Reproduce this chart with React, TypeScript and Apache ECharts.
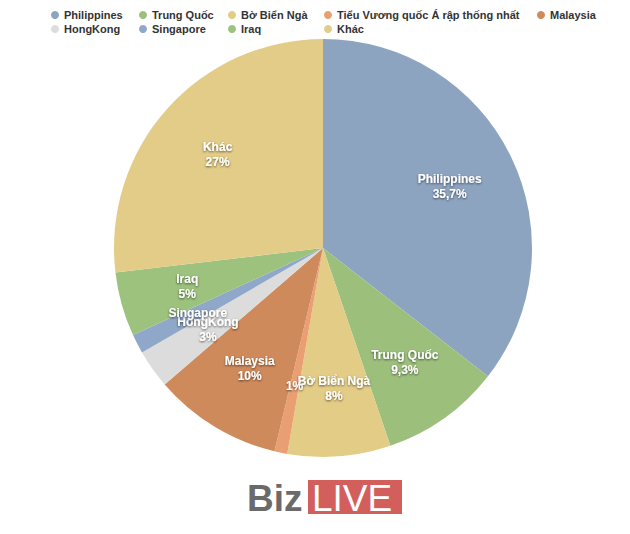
import React, { useEffect, useRef } from "react";
import * as echarts from "echarts";

const names = [
  "Philippines",
  "Trung Quốc",
  "Bờ Biển Ngà",
  "Tiểu Vương quốc Á rập thống nhất",
  "Malaysia",
  "HongKong",
  "Singapore",
  "Iraq",
  "Khác",
];
const values = [35.7, 9.3, 8, 1, 10, 3, 1.5, 5, 27];
const valueTexts = ["35,7%", "9,3%", "8%", "1%", "10%", "3%", "", "5%", "27%"];
const showName = [true, true, true, false, true, true, true, true, true];
const colors = [
  "#8da4c0",
  "#9cc07c",
  "#e2cc86",
  "#ea9f72",
  "#cf8a5c",
  "#dcdcdc",
  "#8fa7c8",
  "#9cc27d",
  "#e2cc88",
];
// legend columns (indices into names)
const legendColumns = [
  [0, 5],
  [1, 6],
  [2, 7],
  [3, 8],
  [4],
];
const legendLefts = [51, 139, 228, 324, 537];

const FONT = "'Liberation Sans', Arial, Helvetica, sans-serif";

export default function App() {
  const ref = useRef<HTMLDivElement>(null);
  useEffect(() => {
    if (!ref.current) return;
    const chart = echarts.init(ref.current, null, { renderer: "svg" });
    const R = 209;
    const center = [323, 248];
    const visibleData = names.map((n, i) => ({
      name: n,
      value: values[i],
      itemStyle: { color: colors[i] },
    }));
    const labelData = names.map((n, i) => {
      const parts: string[] = [];
      if (showName[i]) parts.push(n);
      if (valueTexts[i]) parts.push(valueTexts[i]);
      return {
        name: n,
        value: values[i],
        itemStyle: { color: "rgba(0,0,0,0)" },
        label: { formatter: parts.join("\n") },
      };
    });
    chart.setOption({
      animation: false,
      backgroundColor: "#ffffff",
      legend: legendColumns.map((col, c) => ({
        orient: "vertical",
        left: legendLefts[c],
        top: 8,
        itemWidth: 8,
        itemHeight: 8,
        itemGap: 0,
        icon: "circle",
        padding: 0,
        selectedMode: false,
        data: col.map((i) => names[i]),
        textStyle: {
          fontFamily: FONT,
          fontSize: 11,
          fontWeight: "bold",
          color: "#333333",
          lineHeight: 14,
        },
      })),
      series: [
        {
          type: "pie",
          center,
          radius: [0, R],
          startAngle: 90,
          clockwise: true,
          label: { show: false },
          labelLine: { show: false },
          data: visibleData,
          silent: true,
        },
        {
          type: "pie",
          center,
          radius: [67, R],
          startAngle: 90,
          clockwise: true,
          silent: true,
          avoidLabelOverlap: false,
          minShowLabelAngle: 0,
          labelLine: { show: false },
          label: {
            show: true,
            position: "inside",
            fontFamily: FONT,
            fontSize: 12,
            fontWeight: "bold",
            color: "#ffffff",
            lineHeight: 15,
            overflow: "none",
            textShadowColor: "rgba(0,0,0,0.6)",
            textShadowBlur: 2,
            textShadowOffsetX: 0,
            textShadowOffsetY: 1,
          },
          labelLayout: { hideOverlap: false },
          data: labelData,
        },
      ],
      graphic: [
        {
          type: "text",
          left: 247,
          top: 480,
          style: {
            text: "Biz",
            fontFamily: FONT,
            fontSize: 37,
            fontWeight: "bold",
            fill: "#6a6a6a",
          },
        },
        {
          type: "rect",
          shape: { x: 308, y: 480, width: 94, height: 34 },
          style: { fill: "#d35f5c" },
        },
        {
          type: "text",
          left: 312,
          top: 480,
          style: {
            text: "LIVE",
            fontFamily: FONT,
            fontSize: 37,
            fontWeight: "normal",
            fill: "#ffffff",
          },
        },
      ],
    });
    return () => chart.dispose();
  }, []);
  return (
    <div
      ref={ref}
      style={{ position: "absolute", left: 0, top: 0, width: 630, height: 534 }}
    />
  );
}
